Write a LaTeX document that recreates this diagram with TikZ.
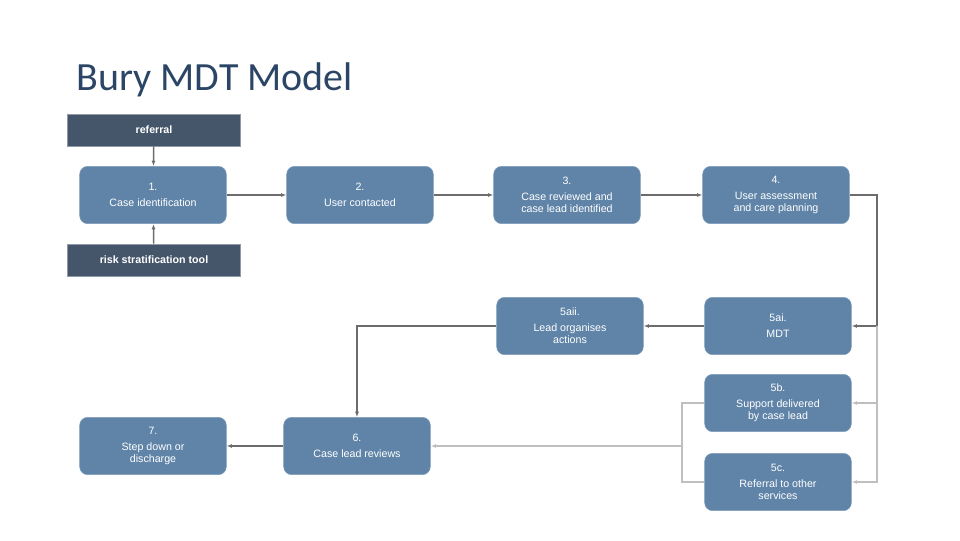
\documentclass[tikz,border=0pt]{standalone}
\usepackage{fontspec}
\setmainfont{Liberation Sans}
\newfontfamily\titlefont{Carlito}
\usetikzlibrary{arrows.meta,positioning}
\definecolor{stepblue}{HTML}{5F84A8}
\definecolor{tagslate}{HTML}{45566B}
\definecolor{titleblue}{HTML}{2B4566}
\tikzset{flowbox/.style={rounded corners=6, draw=stepblue!80!white, fill=stepblue, text=white, minimum width=110pt, minimum height=43pt, align=center, font=\fontsize{8}{9}\selectfont, inner sep=2pt}}
\tikzset{tag/.style={fill=tagslate, draw=tagslate!60!white, text=white, minimum width=130pt, minimum height=24pt, font=\bfseries\fontsize{8}{9}\selectfont}}
\tikzset{arr/.style={draw=gray!85!black, -{Latex[length=4pt,width=3pt]}, line width=1.1pt}}
\tikzset{thinarr/.style={draw=gray!50, -{Latex[length=4pt,width=3pt]}, line width=0.8pt}}

\begin{document}
\begin{tikzpicture}[x=0.75pt,y=-0.75pt]
        \useasboundingbox (0,0) rectangle (960,540);
        \node[anchor=west, text=titleblue, font=\titlefont\fontsize{30}{34}\selectfont] (title) at (72,80) {Bury MDT Model};

        \node[tag] (ref) at (154,130) {referral};
        \node[tag] (risk) at (154,260) {risk stratification tool};

        \node[flowbox] (s1) at (153,195) {1.\\[3pt]Case identification};
        \node[flowbox] (s2) at (360,195) {2.\\[3pt]User contacted};
        \node[flowbox] (s3) at (567,195) {3.\\[3pt]Case reviewed and\\case lead identified};
        \node[flowbox] (s4) at (776,195) {4.\\[3pt]User assessment\\and care planning};
        \node[flowbox] (s5aii) at (570,326) {5aii.\\[3pt]Lead organises\\actions};
        \node[flowbox] (s5ai) at (778,326) {5ai.\\[3pt]MDT};
        \node[flowbox] (s5b) at (778,403) {5b.\\[3pt]Support delivered\\by case lead};
        \node[flowbox] (s5c) at (778,482) {5c.\\[3pt]Referral to other\\services};
        \node[flowbox] (s6) at (357,446) {6.\\[3pt]Case lead reviews};
        \node[flowbox] (s7) at (153,446) {7.\\[3pt]Step down or\\discharge};

        \coordinate (rtop) at (877,195);
        \coordinate (rmid) at (877,326);
        \coordinate (lbr) at (682,446);

        \draw[arr] (ref) -- (s1);
        \draw[arr] (risk) -- (s1);
        \draw[arr] (s1) -- (s2);
        \draw[arr] (s2) -- (s3);
        \draw[arr] (s3) -- (s4);
        \draw[arr] (s4.east) -- (rtop) -- (rmid) -- (s5ai.east);
        \draw[thinarr] (rmid) |- (s5b.east);
        \draw[thinarr] (rmid) |- (s5c.east);
        \draw[arr] (s5ai) -- (s5aii);
        \draw[arr] (s5aii.west) -| (s6.north);
        \draw[draw=gray!50, line width=0.8pt] (s5b.west) -| (lbr) |- (s5c.west);
        \draw[thinarr] (lbr) -- (s6.east);
        \draw[arr] (s6) -- (s7);
\end{tikzpicture}
\end{document}
